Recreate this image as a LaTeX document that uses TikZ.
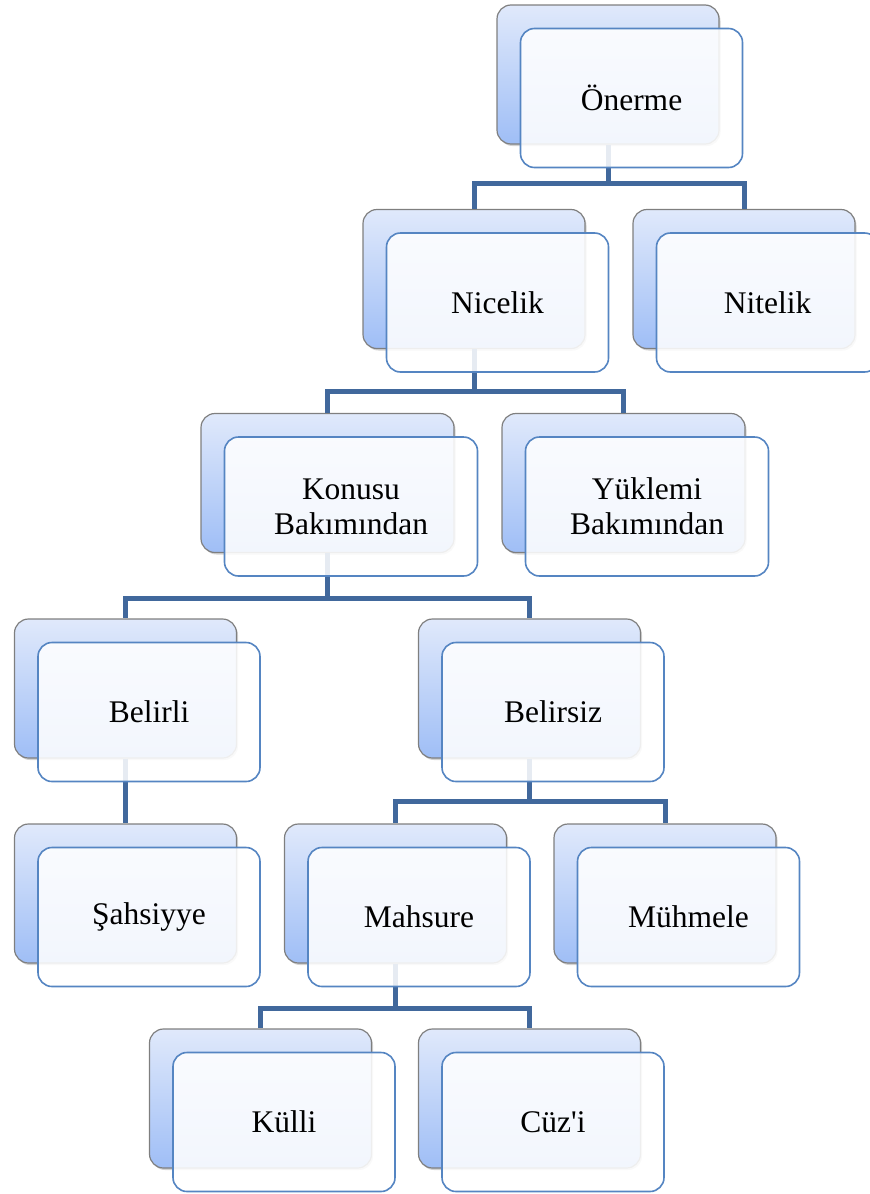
\documentclass[tikz,border=0pt]{standalone}
\usepackage{fontspec}
\setmainfont{Liberation Serif}[Ligatures=TeXOff]
\usepackage{xcolor}
\usetikzlibrary{shadows}
\definecolor{backtop}{HTML}{E0E9FB}
\definecolor{backbot}{HTML}{9FBEF6}
\definecolor{backline}{HTML}{7F7F7F}
\definecolor{frontline}{HTML}{5585C2}
\definecolor{connline}{HTML}{41689C}

\begin{document}
\begin{tikzpicture}[x=1pt,y=-1pt,
        back/.style={rectangle,rounded corners=14pt,draw=backline,line width=1.2pt,top color=backtop,bottom color=backbot,minimum width=222pt,minimum height=139pt,inner sep=0pt,drop shadow={shadow xshift=1.5pt,shadow yshift=-2pt,opacity=0.35}},
        front/.style={rectangle,rounded corners=14pt,draw=frontline,line width=1.6pt,fill=white,fill opacity=0.87,text opacity=1,minimum width=222pt,minimum height=139pt,inner sep=0pt,align=center,font=\fontsize{31.5}{35}\selectfont},
        conn/.style={connline,line width=5pt}]
        \useasboundingbox (0,0) rectangle (870,1194);
        % back boxes
        \node[back] (onermeB)   at (608,74.5)   {};
        \node[back] (nicelikB)  at (474,279)    {};
        \node[back] (nitelikB)  at (744,279)    {};
        \node[back,minimum width=253pt] (konusuB)  at (327.5,483) {};
        \node[back,minimum width=243pt] (yuklemiB) at (623.5,483) {};
        \node[back] (belirliB)  at (125.5,688.5) {};
        \node[back] (belirsizB) at (529.5,688.5) {};
        \node[back] (sahsiyyeB) at (125.5,893.5) {};
        \node[back] (mahsureB)  at (395.5,893.5) {};
        \node[back] (muhmeleB)  at (665,893.5)   {};
        \node[back] (kulliB)    at (260.5,1098.5) {};
        \node[back] (cuziB)     at (529.5,1098.5) {};
        % connectors
        \draw[conn] (onermeB.south) -- ++(0,39) -| (nicelikB.north);
        \draw[conn] (onermeB.south) -- ++(0,39) -| (nitelikB.north);
        \draw[conn] (nicelikB.south) -- ++(0,42) -| (konusuB.north);
        \draw[conn] (nicelikB.south) -- ++(0,42) -| (yuklemiB.north);
        \draw[conn] (konusuB.south) -- ++(0,45) -| (belirliB.north);
        \draw[conn] (konusuB.south) -- ++(0,45) -| (belirsizB.north);
        \draw[conn] (belirliB.south) -- (sahsiyyeB.north);
        \draw[conn] (belirsizB.south) -- ++(0,43) -| (mahsureB.north);
        \draw[conn] (belirsizB.south) -- ++(0,43) -| (muhmeleB.north);
        \draw[conn] (mahsureB.south) -- ++(0,45) -| (kulliB.north);
        \draw[conn] (mahsureB.south) -- ++(0,45) -| (cuziB.north);
        % front boxes
        \node[front] (onerme)   at ([shift={(23.5,23.5)}]onermeB.center)   {Önerme};
        \node[front] (nicelik)  at ([shift={(23.5,23.5)}]nicelikB.center)  {Nicelik};
        \node[front] (nitelik)  at ([shift={(23.5,23.5)}]nitelikB.center)  {Nitelik};
        \node[front,minimum width=253pt] (konusu)  at ([shift={(23.5,23.5)}]konusuB.center)  {Konusu\\Bakımından};
        \node[front,minimum width=243pt] (yuklemi) at ([shift={(23.5,23.5)}]yuklemiB.center) {Yüklemi\\Bakımından};
        \node[front] (belirli)  at ([shift={(23.5,23.5)}]belirliB.center)  {Belirli};
        \node[front] (belirsiz) at ([shift={(23.5,23.5)}]belirsizB.center) {Belirsiz};
        \node[front] (sahsiyye) at ([shift={(23.5,23.5)}]sahsiyyeB.center) {Şahsiyye};
        \node[front] (mahsure)  at ([shift={(23.5,23.5)}]mahsureB.center)  {Mahsure};
        \node[front] (muhmele)  at ([shift={(23.5,23.5)}]muhmeleB.center)  {Mühmele};
        \node[front] (kulli)    at ([shift={(23.5,23.5)}]kulliB.center)    {Külli};
        \node[front] (cuzi)     at ([shift={(23.5,23.5)}]cuziB.center)     {Cüz'i};
    \end{tikzpicture}
\end{document}
